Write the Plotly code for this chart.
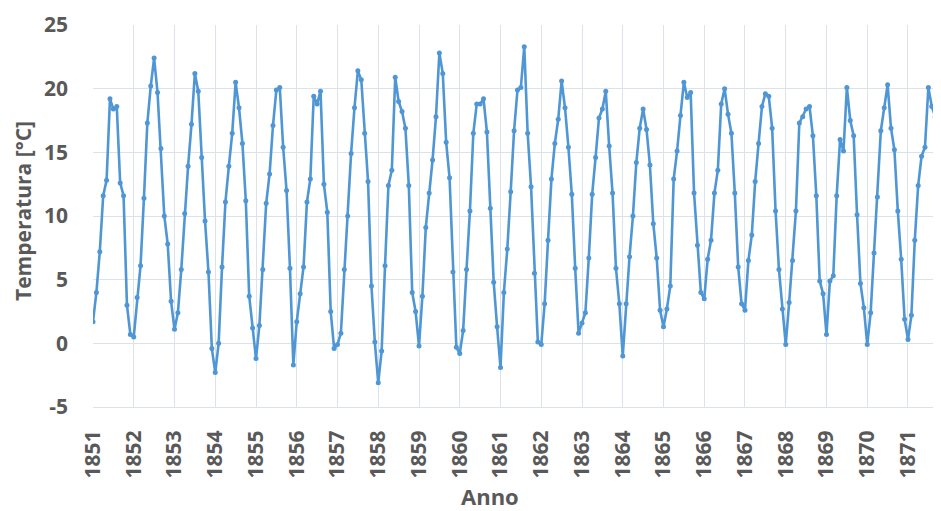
import plotly.graph_objects as go

# Monthly mean temperature (°C), January 1851 .. October 1871
start_year = 1851
temperature = [
    1.7, 4.0, 7.2, 11.6, 12.8, 19.2, 18.4, 18.6, 12.6, 11.6, 3.0, 0.7,      # 1851
    0.5, 3.6, 6.1, 11.4, 17.3, 20.2, 22.4, 19.7, 15.3, 10.0, 7.8, 3.3,      # 1852
    1.1, 2.4, 5.8, 10.2, 13.9, 17.2, 21.2, 19.8, 14.6, 9.6, 5.6, -0.4,      # 1853
    -2.3, 0.0, 6.0, 11.1, 13.9, 16.5, 20.5, 18.5, 15.7, 11.2, 3.7, 1.2,     # 1854
    -1.2, 1.4, 5.8, 11.0, 13.3, 17.1, 19.9, 20.1, 15.4, 12.0, 5.9, -1.7,    # 1855
    1.7, 3.9, 6.0, 11.1, 12.9, 19.4, 18.8, 19.8, 12.5, 10.3, 2.5, -0.4,     # 1856
    -0.1, 0.8, 5.8, 10.0, 14.9, 18.5, 21.4, 20.7, 16.5, 12.7, 4.5, 0.1,     # 1857
    -3.1, -0.6, 6.1, 12.4, 13.6, 20.9, 19.0, 18.2, 16.9, 12.4, 4.0, 2.5,    # 1858
    -0.2, 3.7, 9.1, 11.8, 14.4, 17.8, 22.8, 21.2, 15.8, 13.0, 5.6, -0.3,    # 1859
    -0.8, 1.0, 5.8, 10.4, 16.5, 18.8, 18.8, 19.2, 16.6, 10.6, 4.8, 1.3,     # 1860
    -1.9, 4.0, 7.4, 11.9, 16.7, 19.9, 20.1, 23.3, 16.5, 12.3, 5.5, 0.1,     # 1861
    -0.1, 3.1, 8.1, 12.9, 15.7, 17.6, 20.6, 18.5, 15.4, 11.7, 5.9, 0.8,     # 1862
    1.6, 2.4, 6.7, 11.7, 14.6, 17.7, 18.4, 19.8, 15.5, 11.8, 5.9, 3.1,      # 1863
    -1.0, 3.1, 6.8, 10.0, 14.2, 16.9, 18.4, 16.8, 14.0, 9.4, 6.7, 2.6,      # 1864
    1.3, 2.7, 4.5, 12.9, 15.1, 17.9, 20.5, 19.3, 19.7, 11.8, 7.7, 4.0,      # 1865
    3.5, 6.6, 8.1, 11.8, 13.6, 18.8, 20.0, 18.0, 16.5, 11.8, 6.0, 3.1,      # 1866
    2.6, 6.5, 8.5, 12.7, 15.7, 18.6, 19.6, 19.4, 16.9, 10.4, 5.8, 2.7,      # 1867
    -0.1, 3.2, 6.5, 10.4, 17.3, 17.8, 18.4, 18.6, 16.3, 11.6, 4.9, 3.9,     # 1868
    0.7, 4.9, 5.3, 11.6, 16.0, 15.1, 20.1, 17.5, 16.3, 10.1, 4.7, 2.8,      # 1869
    -0.1, 2.4, 7.1, 11.5, 16.7, 18.5, 20.3, 16.9, 15.2, 10.4, 6.6, 1.9,     # 1870
    0.3, 2.2, 8.1, 12.4, 14.7, 15.4, 20.1, 18.6, 17.8, 10.5,                # 1871
]
year_ticks = list(range(1851, 1872))
y_ticks = [-5, 0, 5, 10, 15, 20, 25]

x_time = [start_year + i / 12 for i in range(len(temperature))]

FONT = "Open Sans"
TXT = "#595959"
GRID = "#DCE2EA"
BLUE = "#4F96D5"

# the page body has an 8 px margin; the figure is sized/placed to compensate
PAGE_OFF = 8
PLOT_L, PLOT_T, PLOT_R, PLOT_B = 93, 25, 941, 407   # target plot box in page pixels
FIG_W, FIG_H = 941 - PAGE_OFF, 511 - PAGE_OFF
plot_w = PLOT_R - PLOT_L
plot_h = PLOT_B - PLOT_T

fig = go.Figure()
fig.add_trace(go.Scatter(
    x=x_time, y=temperature, mode="lines+markers",
    line=dict(color=BLUE, width=2.6),
    marker=dict(color=BLUE, size=5),
    showlegend=False, hoverinfo="x+y",
))

fig.update_layout(
    width=FIG_W, height=FIG_H,
    margin=dict(l=PLOT_L - PAGE_OFF, r=0, t=PLOT_T - PAGE_OFF,
                b=FIG_H - (PLOT_B - PAGE_OFF), autoexpand=False),
    paper_bgcolor="white", plot_bgcolor="white",
    font=dict(family=FONT, color=TXT),
    xaxis=dict(
        range=[1851, 1871.81], tickmode="array", tickvals=year_ticks,
        ticktext=[str(y) for y in year_ticks], tickangle=-90,
        tickfont=dict(family=FONT, size=21, color=TXT, weight="bold"),
        showgrid=True, gridcolor=GRID, gridwidth=1,
        zeroline=False, showline=True, linecolor=GRID, linewidth=1,
        ticks="", ticklabelstandoff=14, automargin=False,
    ),
    yaxis=dict(
        range=[-5, 25], tickmode="array", tickvals=y_ticks,
        ticktext=[str(v) for v in y_ticks],
        tickfont=dict(family=FONT, size=21, color=TXT, weight="bold"),
        showgrid=True, gridcolor=GRID, gridwidth=1,
        zeroline=False, showline=False,
        ticks="", ticklabelstandoff=24, automargin=False,
    ),
    annotations=[
        dict(text="Temperatura [°C]", xref="paper", yref="paper",
             x=(23 - PLOT_L) / plot_w, y=(PLOT_B - 211) / plot_h, textangle=-90,
             showarrow=False, xanchor="center", yanchor="middle",
             font=dict(family=FONT, size=21, color=TXT, weight="bold")),
        dict(text="Anno", xref="paper", yref="paper",
             x=(490 - PLOT_L) / plot_w, y=(PLOT_B - 496) / plot_h,
             showarrow=False, xanchor="center", yanchor="middle",
             font=dict(family=FONT, size=22, color=TXT, weight="bold")),
    ],
)

fig.write_html("out.html")
